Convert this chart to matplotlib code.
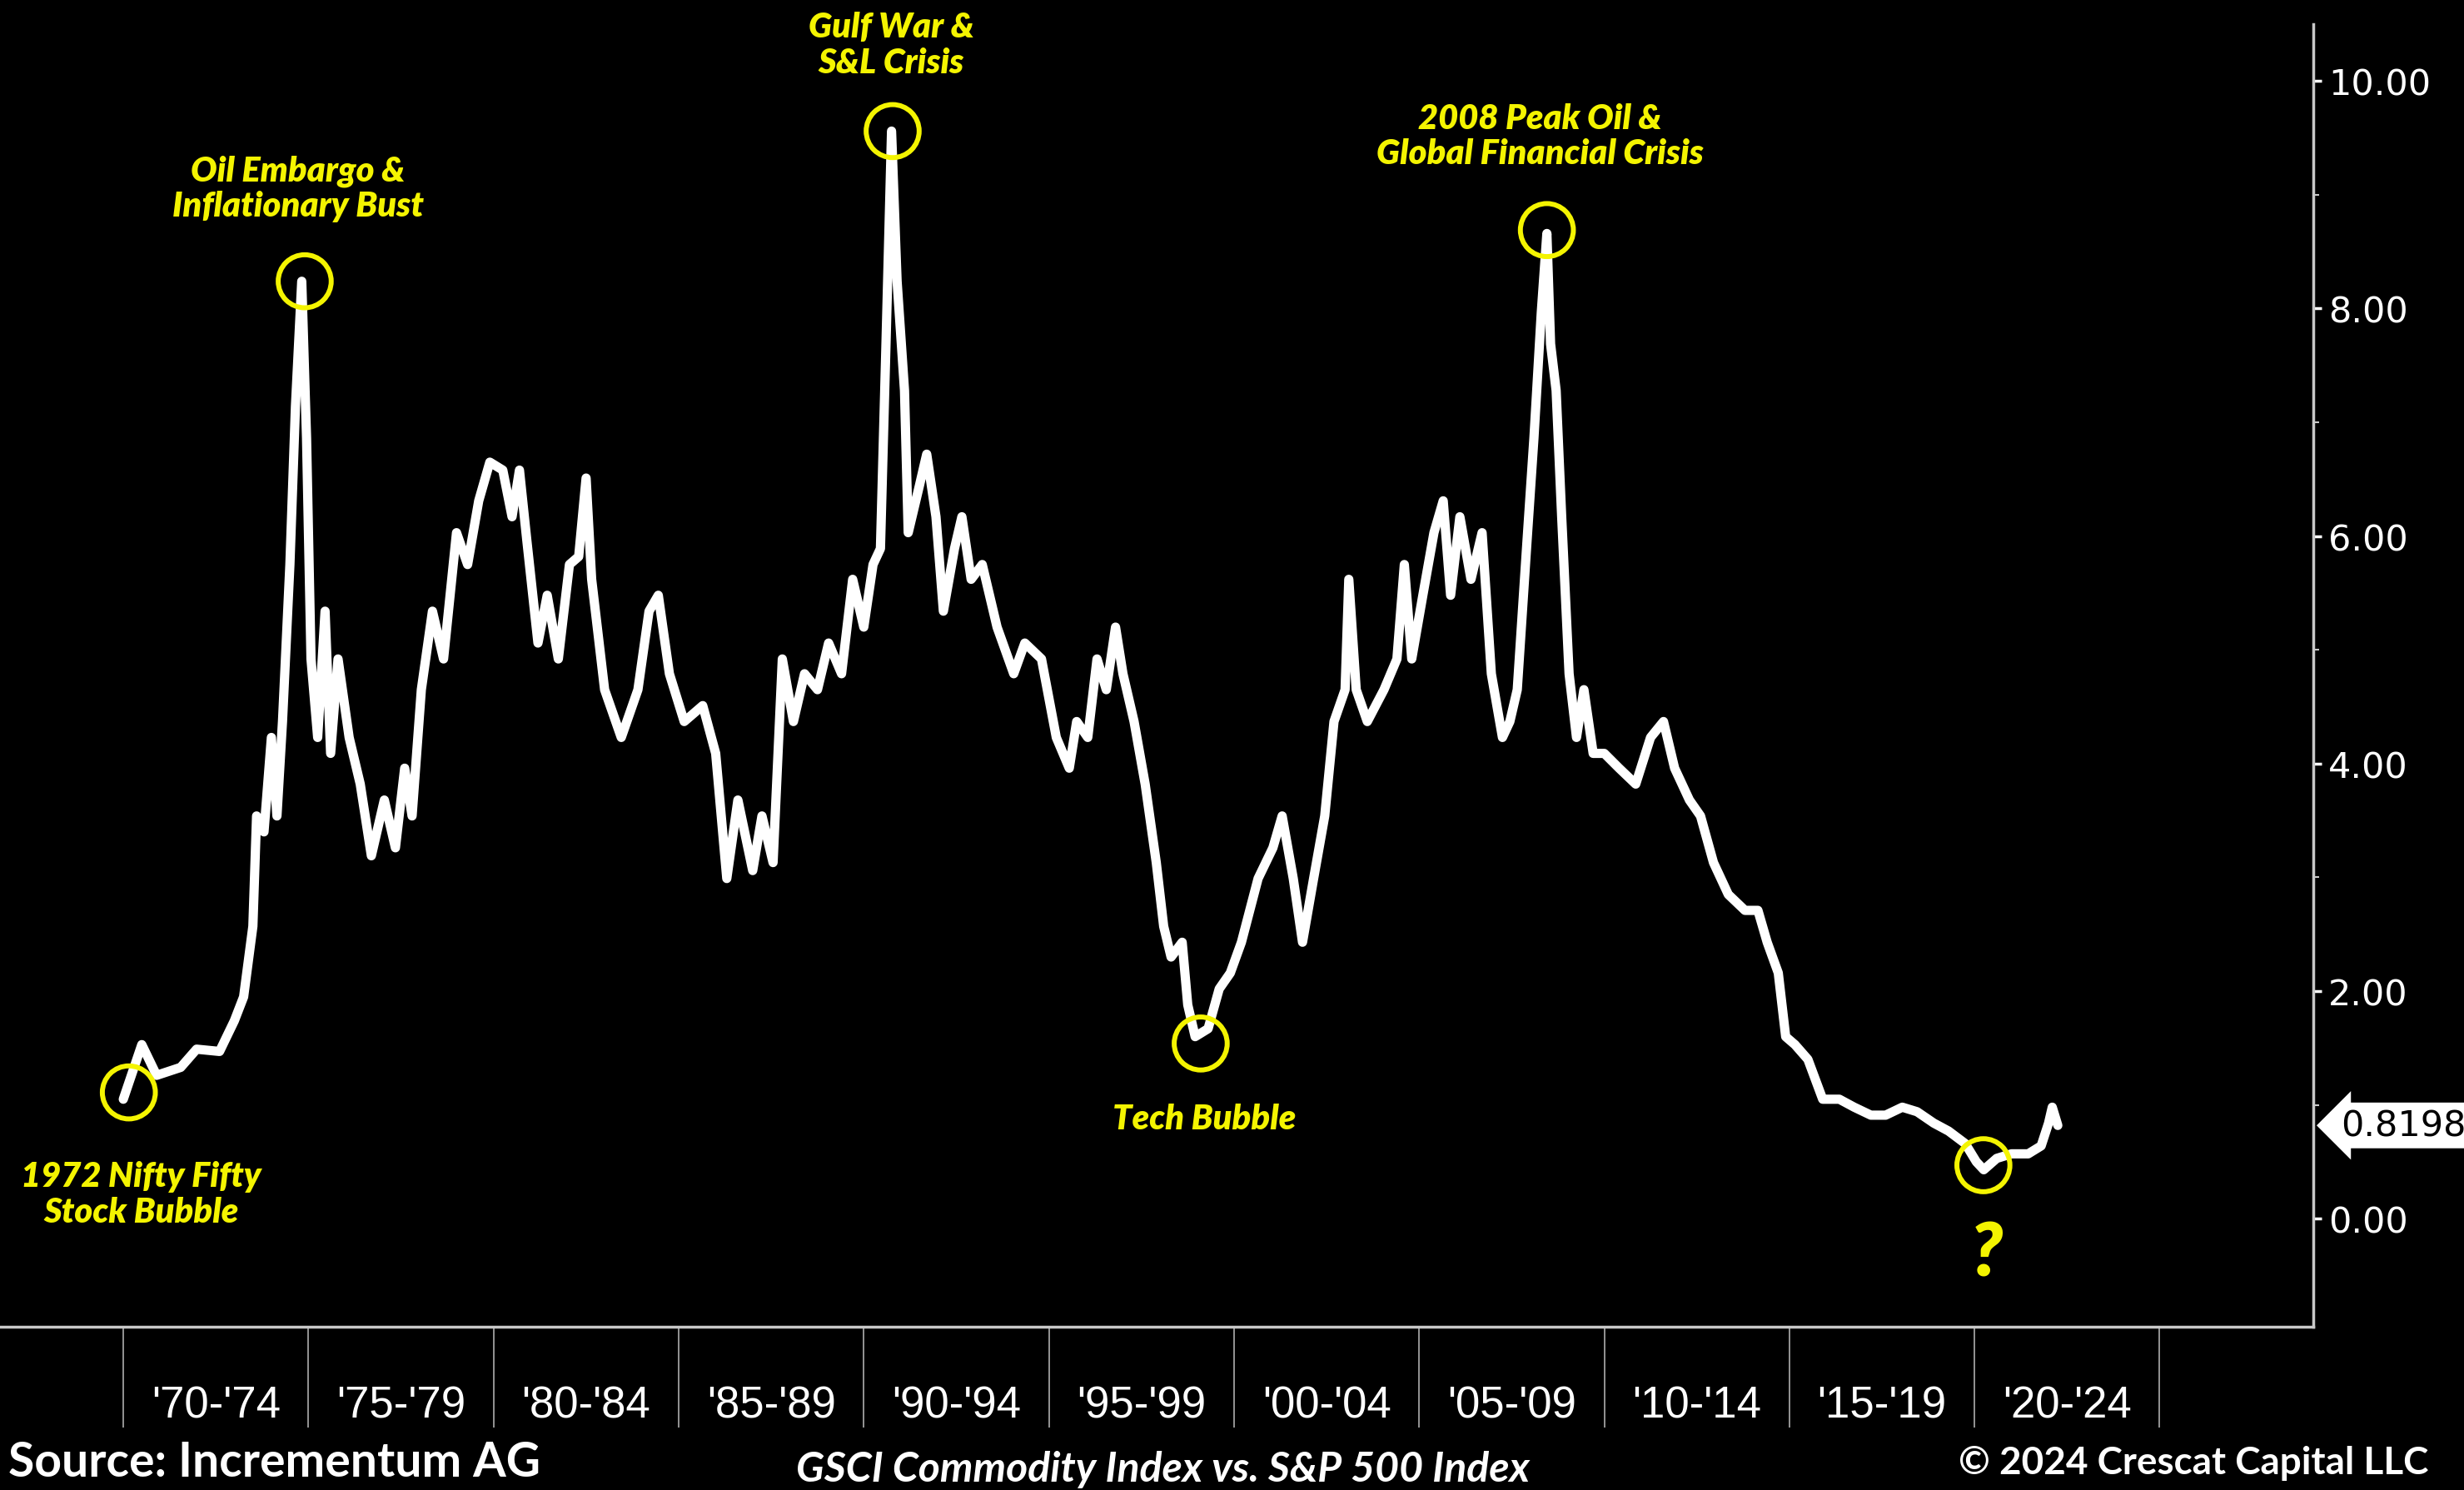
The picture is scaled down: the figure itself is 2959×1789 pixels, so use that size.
import matplotlib.pyplot as plt
from matplotlib.ticker import FixedLocator, FixedFormatter
from matplotlib.transforms import blended_transform_factory

# GSCI / S&P 500 ratio (year, ratio)
years = [1970.0, 1970.5, 1970.9, 1971.55, 1971.98, 1972.6, 1973.0, 1973.25, 1973.5, 1973.6,
         1973.8, 1974.0, 1974.15, 1974.3, 1974.5, 1974.65, 1974.82, 1974.95, 1975.07, 1975.25,
         1975.45, 1975.6, 1975.8, 1976.1, 1976.4, 1976.7, 1977.05, 1977.35, 1977.6, 1977.8,
         1978.05, 1978.35, 1978.65, 1979.0, 1979.3, 1979.6, 1979.9, 1980.25, 1980.5, 1980.7,
         1980.9, 1981.2, 1981.45, 1981.75, 1982.05, 1982.3, 1982.5, 1982.65, 1983.0, 1983.45,
         1983.9, 1984.2, 1984.45, 1984.75, 1985.15, 1985.65, 1986.0, 1986.3, 1986.6, 1987.0,
         1987.25, 1987.55, 1987.8, 1988.1, 1988.4, 1988.75, 1989.05, 1989.4, 1989.7, 1990.0,
         1990.25, 1990.45, 1990.6, 1990.75, 1990.9, 1991.1, 1991.2, 1991.5, 1991.7, 1991.95,
         1992.15, 1992.45, 1992.65, 1992.9, 1993.2, 1993.6, 1994.05, 1994.35, 1994.8, 1995.2,
         1995.55, 1995.75, 1996.05, 1996.3, 1996.55, 1996.8, 1997.0, 1997.3, 1997.6, 1997.9,
         1998.1, 1998.3, 1998.6, 1998.75, 1998.95, 1999.3, 1999.6, 1999.9, 2000.2, 2000.65,
         2001.05, 2001.3, 2001.6, 2001.85, 2002.15, 2002.45, 2002.7, 2003.0, 2003.1, 2003.3,
         2003.6, 2004.05, 2004.4, 2004.6, 2004.8, 2005.1, 2005.4, 2005.65, 2005.85, 2006.1,
         2006.4, 2006.7, 2006.95, 2007.25, 2007.45, 2007.65, 2007.9, 2008.1, 2008.3, 2008.45,
         2008.55, 2008.7, 2008.85, 2009.05, 2009.25, 2009.45, 2009.7, 2010.0, 2010.4, 2010.85,
         2011.25, 2011.6, 2011.9, 2012.3, 2012.6, 2012.95, 2013.35, 2013.8, 2014.15, 2014.4,
         2014.7, 2014.9, 2015.15, 2015.5, 2015.9, 2016.35, 2016.75, 2017.2, 2017.6, 2018.05,
         2018.45, 2018.9, 2019.3, 2019.75, 2020.05, 2020.25, 2020.6, 2021.0, 2021.45, 2021.8,
         2022.0, 2022.1, 2022.25]
ratio = [1.05, 1.53, 1.26, 1.33, 1.49, 1.47, 1.74, 1.95, 2.57, 3.54,
         3.40, 4.23, 3.54, 4.37, 5.75, 7.14, 8.24, 6.86, 4.92, 4.23,
         5.34, 4.09, 4.92, 4.23, 3.82, 3.19, 3.68, 3.26, 3.96, 3.54,
         4.65, 5.34, 4.92, 6.03, 5.75, 6.31, 6.65, 6.58, 6.17, 6.58,
         5.96, 5.06, 5.48, 4.92, 5.75, 5.82, 6.51, 5.62, 4.65, 4.23,
         4.65, 5.34, 5.48, 4.79, 4.37, 4.51, 4.09, 2.99, 3.68, 3.06,
         3.54, 3.13, 4.92, 4.37, 4.79, 4.65, 5.06, 4.79, 5.62, 5.20,
         5.75, 5.89, 7.69, 9.56, 8.24, 7.28, 6.03, 6.44, 6.72, 6.17,
         5.34, 5.89, 6.17, 5.62, 5.75, 5.20, 4.79, 5.06, 4.92, 4.23,
         3.96, 4.37, 4.23, 4.92, 4.65, 5.20, 4.79, 4.37, 3.82, 3.13,
         2.57, 2.30, 2.43, 1.88, 1.60, 1.67, 2.02, 2.16, 2.43, 2.99,
         3.26, 3.54, 2.99, 2.43, 2.99, 3.54, 4.37, 4.65, 5.62, 4.65,
         4.37, 4.65, 4.92, 5.75, 4.92, 5.48, 6.03, 6.31, 5.48, 6.17,
         5.62, 6.03, 4.79, 4.23, 4.37, 4.65, 5.89, 6.86, 7.97, 8.66,
         7.69, 7.28, 6.17, 4.79, 4.23, 4.65, 4.09, 4.09, 3.96, 3.82,
         4.23, 4.37, 3.96, 3.68, 3.54, 3.13, 2.85, 2.71, 2.71, 2.43,
         2.16, 1.60, 1.53, 1.40, 1.05, 1.05, 0.98, 0.91, 0.91, 0.98,
         0.94, 0.84, 0.77, 0.66, 0.50, 0.43, 0.53, 0.57, 0.57, 0.64,
         0.84, 0.98, 0.8198]

last_value = 0.8198

# circled points and their notes
circle_x = [1970.15, 1974.9, 1990.78, 1999.1, 2008.45, 2020.24]
circle_y = [1.11, 8.24, 9.56, 1.54, 8.69, 0.47]
notes = ['1972 Nifty Fifty\nStock Bubble', 'Oil Embargo &\nInflationary Bust',
         'Gulf War &\nS&L Crisis', 'Tech Bubble',
         '2008 Peak Oil &\nGlobal Financial Crisis', '?']
note_x = [1970.49, 1974.72, 1990.74, 1999.19, 2008.26, 2020.31]
note_y = [0.22, 9.06, 10.32, 0.88, 9.52, -0.31]

period_edges = list(range(1970, 2026, 5))
period_labels = ["'70-'74", "'75-'79", "'80-'84", "'85-'89", "'90-'94", "'95-'99",
                 "'00-'04", "'05-'09", "'10-'14", "'15-'19", "'20-'24"]

yellow = '#f4f400'
grey = '#c8c8c8'

fig = plt.figure(figsize=(29.59, 17.9), dpi=100, facecolor='black')
ax = fig.add_axes([0, 196 / 1790, 2778 / 2959, 1564 / 1790])
ax.set_facecolor('black')

ax.plot(years, ratio, color='white', lw=8, solid_joinstyle='round', solid_capstyle='round')
ax.scatter(circle_x, circle_y, s=2100, facecolors='none', edgecolors=yellow,
           linewidths=4.3, zorder=5)

for t, x, y in zip(notes, note_x, note_y):
    size = 64 if t == '?' else 30
    ax.text(x, y, t, color=yellow, fontsize=size, fontweight='heavy', fontstyle='italic',
            family=['Lato', 'DejaVu Sans'], ha='center', va='center', linespacing=1.15)

ax.set_xlim(1966.67, 2029.15)
ax.set_ylim(-0.95, 10.5)

# spines
for s in ['left', 'top']:
    ax.spines[s].set_visible(False)
ax.spines['right'].set_color(grey)
ax.spines['right'].set_linewidth(2.5)
ax.spines['bottom'].set_color(grey)
ax.spines['bottom'].set_linewidth(2.5)

# x axis: separators as long ticks, period labels in between
ax.xaxis.set_major_locator(FixedLocator(period_edges))
ax.xaxis.set_major_formatter(FixedFormatter([''] * len(period_edges)))
ax.xaxis.set_minor_locator(FixedLocator([e + 2.5 for e in period_edges[:-1]]))
ax.xaxis.set_minor_formatter(FixedFormatter(period_labels))
ax.tick_params(axis='x', which='major', direction='out', length=87, width=1.3, color='#a0a0a0')
ax.tick_params(axis='x', which='minor', length=0, pad=50, labelsize=38, labelcolor='white')
for lab in ax.get_xticklabels(minor=True):
    lab.set_family(['Liberation Sans', 'DejaVu Sans'])

# y axis on the right
ax.yaxis.tick_right()
ax.set_yticks([0, 2, 4, 6, 8, 10])
ax.set_yticklabels(['%.2f' % v for v in [0, 2, 4, 6, 8, 10]])
ax.yaxis.set_minor_locator(FixedLocator([1, 3, 5, 7, 9]))
ax.tick_params(axis='y', which='major', direction='out', length=7, width=2.5, color='white',
               labelsize=31, labelcolor='white', pad=6)
ax.tick_params(axis='y', which='minor', direction='out', length=5, width=1.5, color=grey)

# last value tag
trans = blended_transform_factory(ax.transAxes, ax.transData)
ax.text(1.012, last_value, '%.4f' % last_value, transform=trans, ha='left', va='center',
        fontsize=31, color='black', clip_on=False,
        bbox=dict(boxstyle='larrow,pad=0.15', fc='white', ec='none'))

# footer
fig.text(10 / 2959, 1 - 1757 / 1790, 'Source: Incrementum AG', color='white', fontsize=41,
         fontweight='bold', family=['Lato', 'DejaVu Sans'], ha='left', va='center')
fig.text(1396 / 2959, 1 - 1765 / 1790, 'GSCI Commodity Index vs. S&P 500 Index', color='white',
         fontsize=36, fontweight='bold', fontstyle='italic', family=['Lato', 'DejaVu Sans'],
         ha='center', va='center')
fig.text(2916 / 2959, 1 - 1757 / 1790, '\u00a9 2024 Crescat Capital LLC', color='white',
         fontsize=33, fontweight='bold', family=['Lato', 'DejaVu Sans'], ha='right', va='center')

fig.savefig('out.png', dpi=100, facecolor='black')
